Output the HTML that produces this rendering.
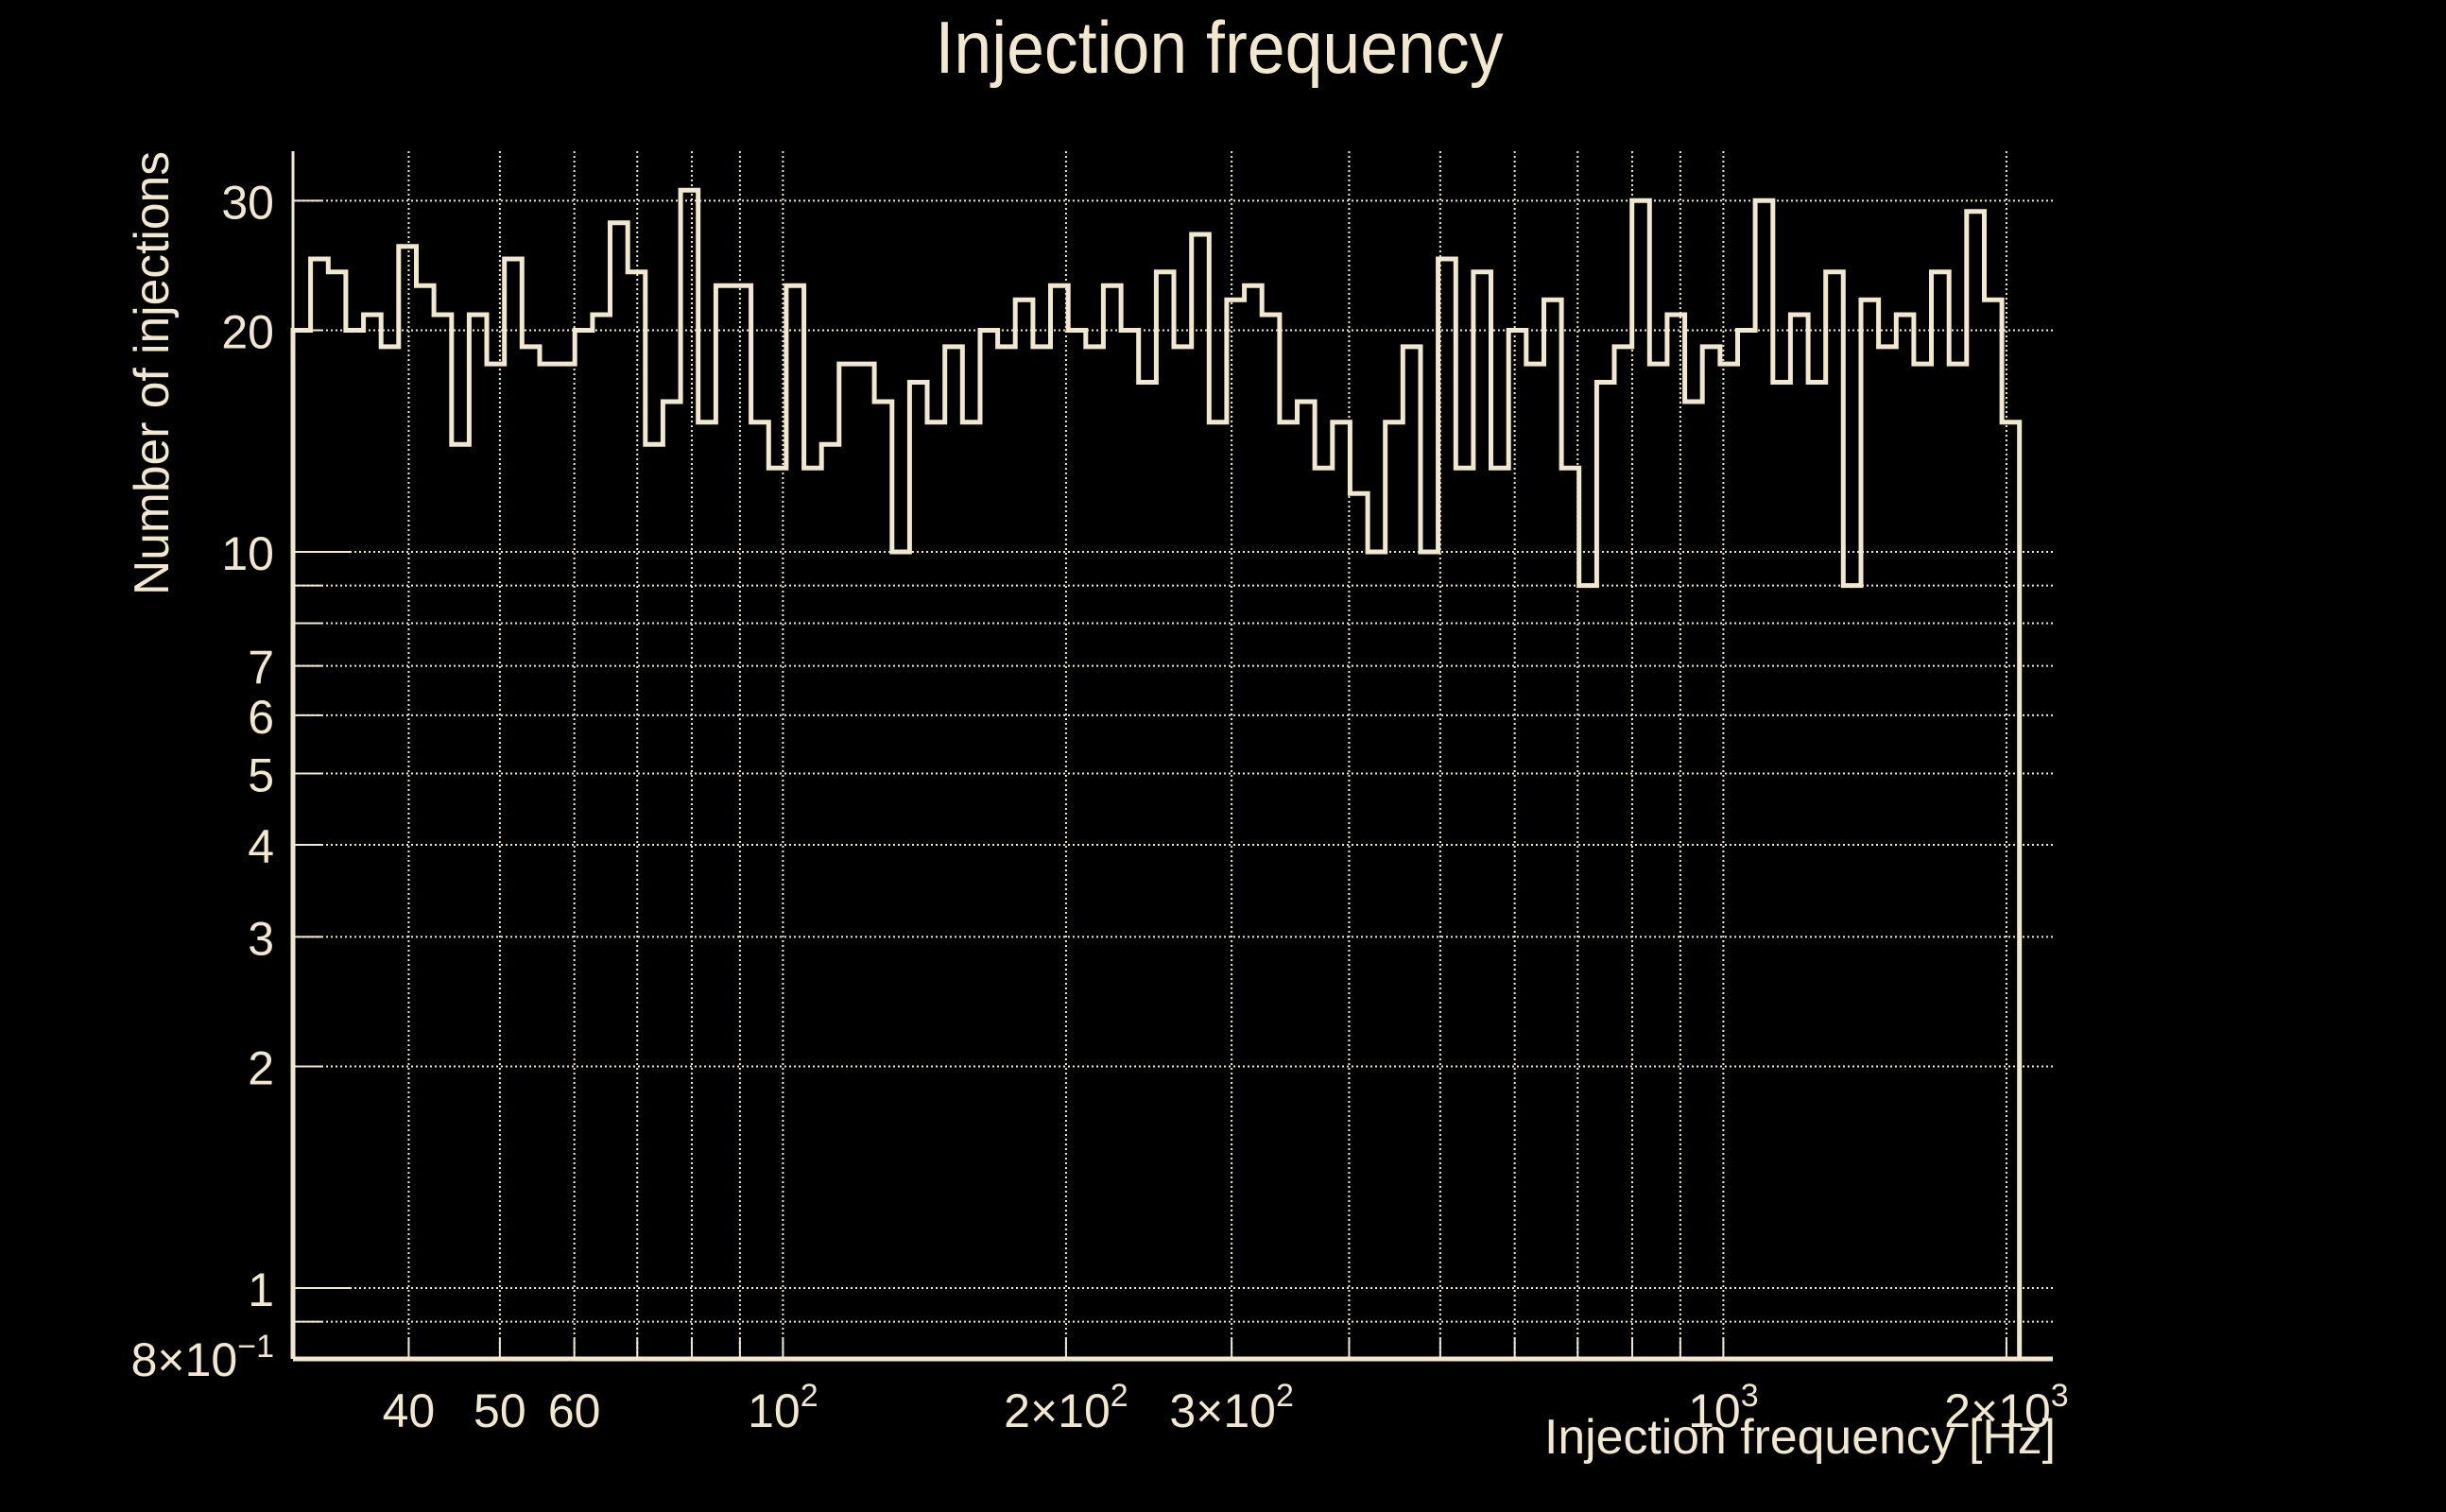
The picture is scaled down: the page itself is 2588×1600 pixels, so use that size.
<!DOCTYPE html>
<html><head><meta charset="utf-8"><style>
html,body{margin:0;padding:0;background:#000;}
svg{display:block;}
text{font-family:"Liberation Sans",sans-serif;fill:#f2e8cf;}
</style></head><body>
<svg id="chart" width="2588" height="1600" viewBox="0 0 2588 1600" xmlns="http://www.w3.org/2000/svg">
<rect x="0" y="0" width="2588" height="1600" fill="#000"/>
<text x="1290" y="77" font-size="78" text-anchor="middle" textLength="601" lengthAdjust="spacingAndGlyphs">Injection frequency</text>
<g id="grid"></g>
<g id="ticks"></g>
<path id="hist" fill="none" stroke="#f2e8cf" stroke-width="5" stroke-linejoin="miter"/>
<g id="axes"></g>
<g id="labels"></g>
<text x="2175" y="1538" font-size="52" text-anchor="end" textLength="541" lengthAdjust="spacingAndGlyphs">Injection frequency [Hz]</text>
<text transform="translate(178,160) rotate(-90)" x="0" y="0" font-size="52" text-anchor="end" textLength="470" lengthAdjust="spacingAndGlyphs">Number of injections</text>
</svg>
<script>
const counts = [20,25,24,20,21,19,26,23,21,14,21,18,25,19,18,18,20,21,28,24,14,16,31,15,23,23,15,13,23,13,14,18,18,16,10,17,15,19,15,20,19,22,19,23,20,19,23,20,17,24,19,27,15,22,23,21,15,16,13,15,12,10,15,19,10,25,13,24,13,20,18,22,13,9,17,19,30,18,21,16,19,18,20,30,17,21,17,24,9,22,19,21,18,24,18,29,22,15];
const freqMin = 30.13;
const freqMax = 2065;
const xMinorTicks = [40,50,60,70,80,90,100,200,300,400,500,600,700,800,900,1000,2000];
const yGridValues = [0.9,1,2,3,4,5,6,7,8,9,10,20,30];
const yTickLabels = [[30,"30"],[20,"20"],[10,"10"],[7,"7"],[6,"6"],[5,"5"],[4,"4"],[3,"3"],[2,"2"],[1,"1"]];
const xTickLabels = [[40,"40",""],[50,"50",""],[60,"60",""],[100,"10","2"],[200,"2×10","2"],[300,"3×10","2"],[1000,"10","3"],[2000,"2×10","3"]];

const NS="http://www.w3.org/2000/svg";
const L=310,R=2172,T=160,B=1438;
const X0=1.479, XDEC=995;
function xs(f){return L+(Math.log10(f)-X0)*XDEC;}
function ys(v){return 1363-Math.log10(v)*779;}
const C="#f2e8cf";
function el(tag,attrs,parent){const e=document.createElementNS(NS,tag);for(const k in attrs)e.setAttribute(k,attrs[k]);parent.appendChild(e);return e;}
const grid=document.getElementById('grid'),ticks=document.getElementById('ticks'),axes=document.getElementById('axes'),labels=document.getElementById('labels');

xMinorTicks.forEach(f=>{
  const x=xs(f);
  const g=el('line',{x1:x,x2:x,y1:T,y2:B,stroke:C,'stroke-width':2,'stroke-dasharray':'2 3'},grid);
  
  
  const t=el('line',{x1:x,x2:x,y1:B-22,y2:B,stroke:C,'stroke-width':2},ticks);
  
  
});
yGridValues.forEach(v=>{
  const y=ys(v);
  const g=el('line',{x1:L,x2:R,y1:y,y2:y,stroke:C,'stroke-width':2,'stroke-dasharray':'2 3'},grid);
  
  
  const major=(v===1||v===10);
  const t=el('line',{x1:L,x2:L+(major?62:30),y1:y,y2:y,stroke:C,'stroke-width':2},ticks);
  
  
});

// histogram
const lo=Math.log10(freqMin),hi=Math.log10(freqMax),n=counts.length;
let d="M"+xs(freqMin)+","+B;
counts.forEach((c,i)=>{
  const x1=xs(Math.pow(10,lo+(hi-lo)*i/n)),x2=xs(Math.pow(10,lo+(hi-lo)*(i+1)/n));
  const y=ys(c);
  d+=" L"+x1.toFixed(1)+","+y.toFixed(1)+" L"+x2.toFixed(1)+","+y.toFixed(1);
});
d+=" L"+xs(freqMax).toFixed(1)+","+B;
document.getElementById('hist').setAttribute('d',d);

// axes
const ax=el('line',{x1:L,x2:R,y1:B,y2:B,stroke:C,'stroke-width':5},axes);


const ay=el('line',{x1:L,x2:L,y1:T,y2:B,stroke:C,'stroke-width':3},axes);



// y labels
yTickLabels.forEach(([v,s])=>{
  const t=el('text',{x:290,y:ys(v)+19,'font-size':50,'text-anchor':'end'},labels);
  t.textContent=s;
  
  
});
const yl=el('text',{x:290,y:B+18,'font-size':50,'text-anchor':'end'},labels);


yl.innerHTML='8×10<tspan dy="-20" font-size="34">−1</tspan>';

// x labels
xTickLabels.forEach(([f,s,sup])=>{
  const t=el('text',{x:xs(f),y:1510,'font-size':50,'text-anchor':'middle'},labels);
  
  
  if(sup){t.innerHTML=s+'<tspan dy="-22" font-size="34">'+sup+'</tspan>';}
  else t.textContent=s;
});
</script>
</body></html>
